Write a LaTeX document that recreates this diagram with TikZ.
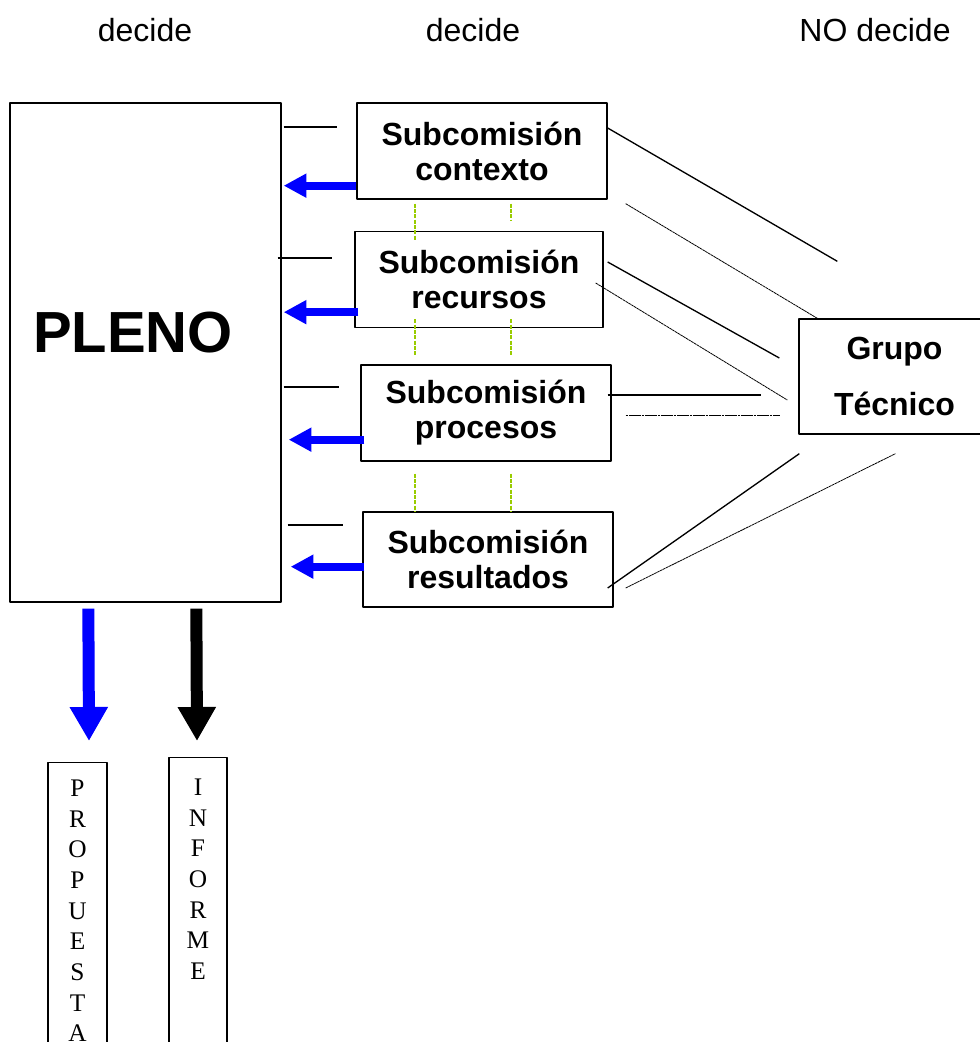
\documentclass[tikz,border=0pt]{standalone}
\usepackage{fontspec}
\setmainfont{Liberation Sans}
\newfontfamily\letrasfont{Liberation Serif}
\usetikzlibrary{arrows.meta,calc}
\definecolor{verdeguia}{RGB}{153,204,0}
\begin{document}
\begin{tikzpicture}[x=0.75pt,y=-0.75pt, line join=round,
    etiqueta/.style={font=\fontsize{24}{28}\selectfont},
    caja/.style={draw, line width=1pt, minimum width=187.5pt, minimum height=72pt, inner sep=0pt,
      align=center, font=\fontsize{24}{26.25}\selectfont\bfseries},
    vcaja/.style={draw, line width=1pt, anchor=north, minimum height=240pt},
    letras/.style={anchor=north, inner sep=0pt, align=center, font=\letrasfont\fontsize{19}{23}\selectfont},
    raya/.style={line width=0.8pt},
    enlace/.style={line width=1pt},
    enlacefino/.style={line width=0.6pt, dash pattern=on 2pt off 0.4pt},
    guia/.style={verdeguia, line width=0.8pt, dash pattern=on 3pt off 1pt},
    flecha/.style={blue, line width=6pt, -{Triangle[length=17pt,width=17pt]}},
    bajada/.style={line width=9pt, -{Triangle[length=25.5pt,width=27pt]}}]
  \useasboundingbox (0,0) rectangle (980,1042);
  \clip (0,0) rectangle (980,1042);
  % cabecera
  \node[etiqueta] (dec1) at (145,30) {decide};
  \node[etiqueta] (dec2) at (473,30) {decide};
  \node[etiqueta] (dec3) at (875,30) {NO decide};
  % pleno y subcomisiones
  \node[draw, line width=1pt, minimum width=203.25pt, minimum height=374.25pt] (pleno) at (145.5,352.5) {};
  \node[font=\fontsize{43.5}{50}\selectfont\bfseries] (plenotxt) at (133,333) {PLENO};
  \node[caja] (ctx) at (482,151) {Subcomisión\\contexto};
  \node[caja, minimum width=186pt] (rec) at (479,279.5) {Subcomisión\\recursos};
  \node[caja] (proc) at (486,413) {Subcomisión\\procesos};
  \node[caja, minimum height=71.25pt] (res) at (488,559.5) {Subcomisión\\resultados};
  \node[caja, minimum width=143.25pt, minimum height=86.25pt,
    font=\fontsize{24}{42}\selectfont\bfseries] (grupo) at (894.5,376.5) {Grupo\\Técnico};
  % rayas hacia el pleno
  \draw[raya] ($(pleno.east|-ctx.west)+(2,-24)$) -- ($(ctx.west)+(-19,-24)$);
  \draw[raya] ($(pleno.east|-rec.west)+(-4,-21.5)$) -- ($(rec.west)+(-22,-21.5)$);
  \draw[raya] ($(pleno.east|-proc.west)+(2,-26)$) -- ($(proc.west)+(-21,-26)$);
  \draw[raya] ($(pleno.east|-res.west)+(6,-34.5)$) -- ($(res.west)+(-19,-34.5)$);
  % flechas azules
  \foreach \b/\dx/\dy/\fin in {ctx/0/-14/2, rec/4/-16/2, proc/4/-22/7, res/2/-41/9}{
    \coordinate (a\b) at ($(\b.south west)+(\dx,\dy)$);
    \draw[flecha, shorten >=\fin*0.75pt] (a\b) -- (a\b -| pleno.east);
  }
  % guias verdes
  \coordinate (g1) at (415,0);
  \coordinate (g2) at (511,0);
  \draw[guia] ($(g1|-ctx.south)+(0,4)$) -- ($(g1|-rec.north)+(0,9)$);
  \draw[guia] ($(g2|-ctx.south)+(0,4)$) -- ($(g2|-rec.north)+(0,-10)$);
  \foreach \g in {g1,g2}{
    \draw[guia] ($(\g|-rec.south)+(0,-9)$) -- ($(\g|-proc.north)+(0,-8)$);
    \draw[guia] ($(\g|-proc.south)+(0,12)$) -- (\g|-res.north);
  }
  % enlaces con el grupo tecnico
  \coordinate (t1) at ($(grupo.north west)+(39,-57)$);
  \coordinate (t3) at ($(grupo.west)+(-19,-18.5)$);
  \draw[enlace] ($(ctx.east)+(0,-23)$) -- (t1);
  \draw[enlacefino] ($(ctx.south east)+(18,4)$) -- ($(grupo.north west)+(19,0)$);
  \draw[enlace] ($(rec.east)+(4,-17.5)$) -- (t3);
  \draw[enlacefino] ($(rec.east)+(-8,3.5)$) -- ($(grupo.west)+(-11,23.5)$);
  \draw[enlace] ($(proc.east)+(-4,-18)$) -- ($(grupo.west)+(-37,18.5)$);
  \draw[enlacefino] ($(proc.east)+(14,2)$) -- ($(grupo.west)+(-19,38.5)$);
  \draw[enlace] ($(res.east)+(-6,28.5)$) -- ($(grupo.south west)+(1,19)$);
  \draw[enlacefino] ($(res.east)+(12,28.5)$) -- ($(grupo.south west)+(97,19)$);
  % salidas del pleno
  \node[vcaja, minimum width=44.25pt] (prop) at (77.5,762) {};
  \node[vcaja, minimum width=43.5pt] (inf) at (198,757) {};
  \node[letras] (proptxt) at ($(prop.north)+(0,17.6)$) {P\\R\\O\\P\\U\\E\\S\\T\\A};
  \node[letras] (inftxt) at ($(inf.north)+(0,21.6)$) {I\\N\\F\\O\\R\\M\\E};
  \draw[bajada, blue] ($(pleno.south west)+(79,6)$) -- ($(prop.north)+(11.5,-21)$);
  \draw[bajada] ($(pleno.south west)+(187,6)$) -- ($(inf.north)+(-1,-16)$);
\end{tikzpicture}
\end{document}
